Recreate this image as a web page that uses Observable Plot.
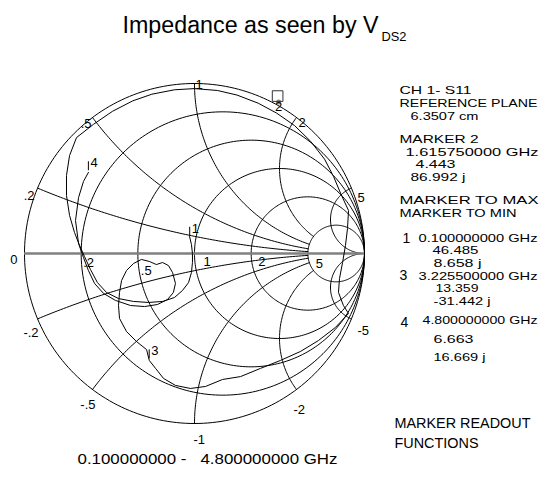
<!DOCTYPE html>
<html><head><meta charset="utf-8">
<script src="https://cdn.jsdelivr.net/npm/d3@7"></script>
<script src="https://cdn.jsdelivr.net/npm/@observablehq/plot@0.6"></script>
<style>
html,body{margin:0;padding:0;background:#fff;overflow:hidden;}
#wrap{position:relative;width:543px;height:477px;}
#wrap svg{position:absolute;left:0;top:0;}
</style></head><body><div id="wrap"></div>
<script>
// ---------- data ----------
const Z0 = 50;
const rCircles = [0.2, 0.5, 1, 2, 5];
const rTickLabels = [".2", ".5", "1", "2", "5"];
const xArcs = [0.2, 0.5, 1, 2, 5, -0.2, -0.5, -1, -2, -5];
const xTickLabels = [".2", ".5", "1", "2", "5", "-.2", "-.5", "-1", "-2", "-5"];
const markerNames = ["1", "2", "3", "4"];
const markerGHz = [0.1, 1.61575, 3.2255, 4.8];
const markerRohm = [46.485, 4.443, 13.359, 6.663];
const markerXohm = [8.658, 86.992, -31.442, 16.669];
const traceRe = [-0.029,-0.018,-0.012,-0.012,-0.018,-0.035,-0.071,-0.118,-0.188,-0.271,-0.359,-0.447,-0.518,-0.571,-0.612,-0.647,-0.676,-0.706,-0.735,-0.753,-0.753,-0.735,-0.694,-0.594,-0.483,-0.363,-0.251,-0.118,0.000,0.135,0.250,0.375,0.483,0.588,0.683,0.765,0.818,0.862,0.906,0.900,0.888,0.871,0.853,0.847,0.876,0.906,0.829,0.729,0.624,0.506,0.388,0.271,0.165,0.065,-0.024,-0.112,-0.182,-0.229,-0.266,-0.282,-0.341,-0.400,-0.441,-0.447,-0.441,-0.429,-0.400,-0.359,-0.312,-0.265,-0.224,-0.188,-0.153,-0.129,-0.112,-0.124,-0.159,-0.218,-0.294,-0.376,-0.465,-0.535,-0.588,-0.624,-0.653,-0.682,-0.700,-0.682,-0.653,-0.624];
const traceIm = [0.100,0.053,0.000,-0.053,-0.112,-0.171,-0.218,-0.259,-0.282,-0.288,-0.282,-0.265,-0.229,-0.171,-0.094,-0.018,0.047,0.124,0.224,0.341,0.459,0.576,0.682,0.760,0.836,0.898,0.937,0.963,0.970,0.959,0.932,0.884,0.826,0.753,0.660,0.555,0.453,0.348,0.253,0.147,0.047,-0.053,-0.147,-0.229,-0.306,-0.353,-0.435,-0.512,-0.576,-0.629,-0.676,-0.724,-0.741,-0.782,-0.794,-0.776,-0.735,-0.676,-0.629,-0.565,-0.518,-0.459,-0.382,-0.306,-0.229,-0.159,-0.100,-0.059,-0.035,-0.047,-0.065,-0.053,-0.071,-0.112,-0.176,-0.229,-0.271,-0.300,-0.312,-0.306,-0.276,-0.235,-0.176,-0.100,-0.024,0.059,0.194,0.329,0.424,0.477];

// ---------- layout / style ----------
const FONT = "'Liberation Sans', Arial, Helvetica, sans-serif";
const PX = 170;            // pixels per unit of reflection coefficient
const arcStopR = 5;        // reactance arcs (|x|<5) end on the r = 5 circle
const rLabelOffset = [[2,13],[3,21],[9,12],[7,12],[8,14]];
const xLabelOffset = [[-3,12],[-1,10],[1,5],[2,9],[6,14],[1,18],[3,19],[-1,20],[-3,24],[6,16]];

const gamma = (r, x) => { const d = (r + 1) ** 2 + x * x; return [(r * r + x * x - 1) / d, 2 * x / d]; };

// grid geometry built from the r / x values
const grid = [];
[0, ...rCircles].forEach(r => {
  const c = r / (1 + r), rad = 1 / (1 + r);
  for (let k = 0; k <= 240; k++) { const t = 2 * Math.PI * k / 240; grid.push({id: "r" + r, x: c + rad * Math.cos(t), y: rad * Math.sin(t)}); }
});
xArcs.forEach(xv => {
  const cx = 1, cy = 1 / xv, R = 1 / Math.abs(xv);
  const p0 = gamma(0, xv), p1 = Math.abs(xv) >= 5 ? [1, 0] : gamma(arcStopR, xv);
  const a0 = Math.atan2(p0[1] - cy, p0[0] - cx);
  let da = Math.atan2(p1[1] - cy, p1[0] - cx) - a0;
  while (da > Math.PI) da -= 2 * Math.PI; while (da < -Math.PI) da += 2 * Math.PI;
  for (let k = 0; k <= 90; k++) { const a = a0 + da * k / 90; grid.push({id: "x" + xv, x: cx + R * Math.cos(a), y: cy + R * Math.sin(a)}); }
});

const trace = traceRe.map((re, i) => ({x: re, y: traceIm[i]}));

const rLab = rCircles.map((r, i) => { const g = gamma(r, 0); return {t: rTickLabels[i], x: g[0] + rLabelOffset[i][0] / PX, y: g[1] - rLabelOffset[i][1] / PX}; });
rLab.push({t: "0", x: -1 - 7 / PX, y: -10 / PX, end: true});
const xLab = xArcs.map((xv, i) => { const g = gamma(0, xv); return {t: xTickLabels[i], x: g[0] + xLabelOffset[i][0] / PX, y: g[1] - xLabelOffset[i][1] / PX, end: Math.abs(xv) < 1}; });
const labStart = [...rLab.filter(d => !d.end), ...xLab.filter(d => !d.end)];
const labEnd = [...rLab.filter(d => d.end), ...xLab.filter(d => d.end)];

const markers = markerNames.map((n, i) => { const g = gamma(markerRohm[i] / Z0, markerXohm[i] / Z0); return {n, x: g[0], y: g[1]}; });
const tickMarkers = markers.filter(m => m.n !== "2");
const activeMarker = markers.filter(m => m.n === "2");

const chart = Plot.plot({
  width: 543, height: 477,
  x: {domain: [-1, 1], range: [24, 364], axis: null},
  y: {domain: [-1, 1], range: [423, 83], axis: null},
  style: {background: "transparent", fontFamily: FONT, color: "black"},
  marks: [
    Plot.line(grid, {x: "x", y: "y", z: "id", stroke: "black", strokeWidth: 1}),
    Plot.ruleY([0], {x1: -1, x2: 1, stroke: "#808080", strokeWidth: 2.5}),
    Plot.line(trace, {x: "x", y: "y", stroke: "black", strokeWidth: 1}),
    Plot.text(labStart, {x: "x", y: "y", text: "t", textAnchor: "start", lineAnchor: "bottom", fontSize: 13, fill: "black"}),
    Plot.text(labEnd, {x: "x", y: "y", text: "t", textAnchor: "end", lineAnchor: "bottom", fontSize: 13, fill: "black"}),
    Plot.link(tickMarkers, {x1: "x", x2: "x", y1: "y", y2: d => d.y + 9 / PX, dy: -2, stroke: "black", strokeWidth: 1}),
    Plot.text(tickMarkers, {x: "x", y: "y", text: "n", dx: 2, dy: -5, textAnchor: "start", lineAnchor: "bottom", fontSize: 13, fill: "black"}),
    Plot.dot(activeMarker, {x: "x", y: "y", r: 2.5, dx: 2, dy: -11, fill: "#888", stroke: "none"}),
    Plot.dot(activeMarker, {x: "x", y: "y", symbol: "square", r: 6, dx: 1, dy: -17, fill: "none", stroke: "#333", strokeWidth: 1}),
    Plot.text(activeMarker, {x: "x", y: "y", text: "n", dx: 2, dy: -2, textAnchor: "middle", lineAnchor: "bottom", fontSize: 13, fill: "black"})
  ]
});

// ---------- text panel ----------
const nb = s => s.replace(/ /g, "\u00a0");
const f9 = v => v.toFixed(9), f3 = v => v.toFixed(3);
const P = 11; // panel font size
const texts = [
  {t: "Impedance as seen by V", x: 122, y: 32, w: 256, s: 23},
  {t: "DS2", x: 381, y: 40, w: 25, s: 13},
  {t: "CH 1- S11", x: 399, y: 93, w: 72, s: P},
  {t: "REFERENCE PLANE", x: 399, y: 106, w: 138, s: P},
  {t: "6.3507 cm", x: 410, y: 119, w: 68, s: P},
  {t: "MARKER " + markerNames[1], x: 399, y: 142, w: 79, s: P},
  {t: f9(markerGHz[1]) + " GHz", x: 405, y: 155, w: 133, s: P},
  {t: f3(markerRohm[1]), x: 415, y: 167.5, w: 40, s: P},
  {t: f3(markerXohm[1]) + " j", x: 410, y: 180, w: 55, s: P},
  {t: "MARKER TO MAX", x: 399, y: 203, w: 139, s: P},
  {t: "MARKER TO MIN", x: 399, y: 216.5, w: 117, s: P},
  {t: markerNames[0], x: 402, y: 242, s: 14},
  {t: f9(markerGHz[0]) + " GHz", x: 418, y: 241, w: 119, s: P},
  {t: f3(markerRohm[0]), x: 432, y: 253.5, w: 46, s: P},
  {t: f3(markerXohm[0]) + " j", x: 433, y: 266.5, w: 48, s: P},
  {t: markerNames[2], x: 399, y: 279.5, s: 14},
  {t: f9(markerGHz[2]) + " GHz", x: 418, y: 279, w: 119, s: P},
  {t: f3(markerRohm[2]), x: 435, y: 291.5, w: 43, s: P},
  {t: f3(markerXohm[2]) + " j", x: 433, y: 304, w: 57, s: P},
  {t: markerNames[3], x: 400, y: 326, s: 14},
  {t: f9(markerGHz[3]) + " GHz", x: 422, y: 323, w: 115, s: P},
  {t: f3(markerRohm[3]), x: 433, y: 342, w: 40, s: P},
  {t: f3(markerXohm[3]) + " j", x: 433, y: 360, w: 52, s: P},
  {t: "MARKER READOUT", x: 394, y: 427, w: 136, s: 14},
  {t: "FUNCTIONS", x: 394, y: 447, w: 84, s: 14},
  {t: nb(f9(markerGHz[0]) + " -   " + f9(markerGHz[3]) + " GHz"), x: 77, y: 463, w: 260, s: 15}
];
const sizes = [...new Set(texts.map(d => d.s))];
const overlay = Plot.plot({
  width: 543, height: 477,
  x: {type: "identity", axis: null},
  y: {type: "identity", axis: null},
  style: {background: "transparent", fontFamily: FONT, color: "black"},
  marks: sizes.map(s => Plot.text(texts.filter(d => d.s === s), {x: "x", y: "y", text: "t", fontSize: s, textAnchor: "start", lineAnchor: "bottom", fill: "black"}))
});
const ordered = sizes.flatMap(s => texts.filter(d => d.s === s));
d3.select(overlay).selectAll("text").each(function (_, i) {
  const d = ordered[i];
  if (d && d.w) d3.select(this).attr("textLength", d.w).attr("lengthAdjust", "spacingAndGlyphs");
});

const wrap = document.getElementById("wrap");
wrap.appendChild(chart);
wrap.appendChild(overlay);
</script></body></html>
